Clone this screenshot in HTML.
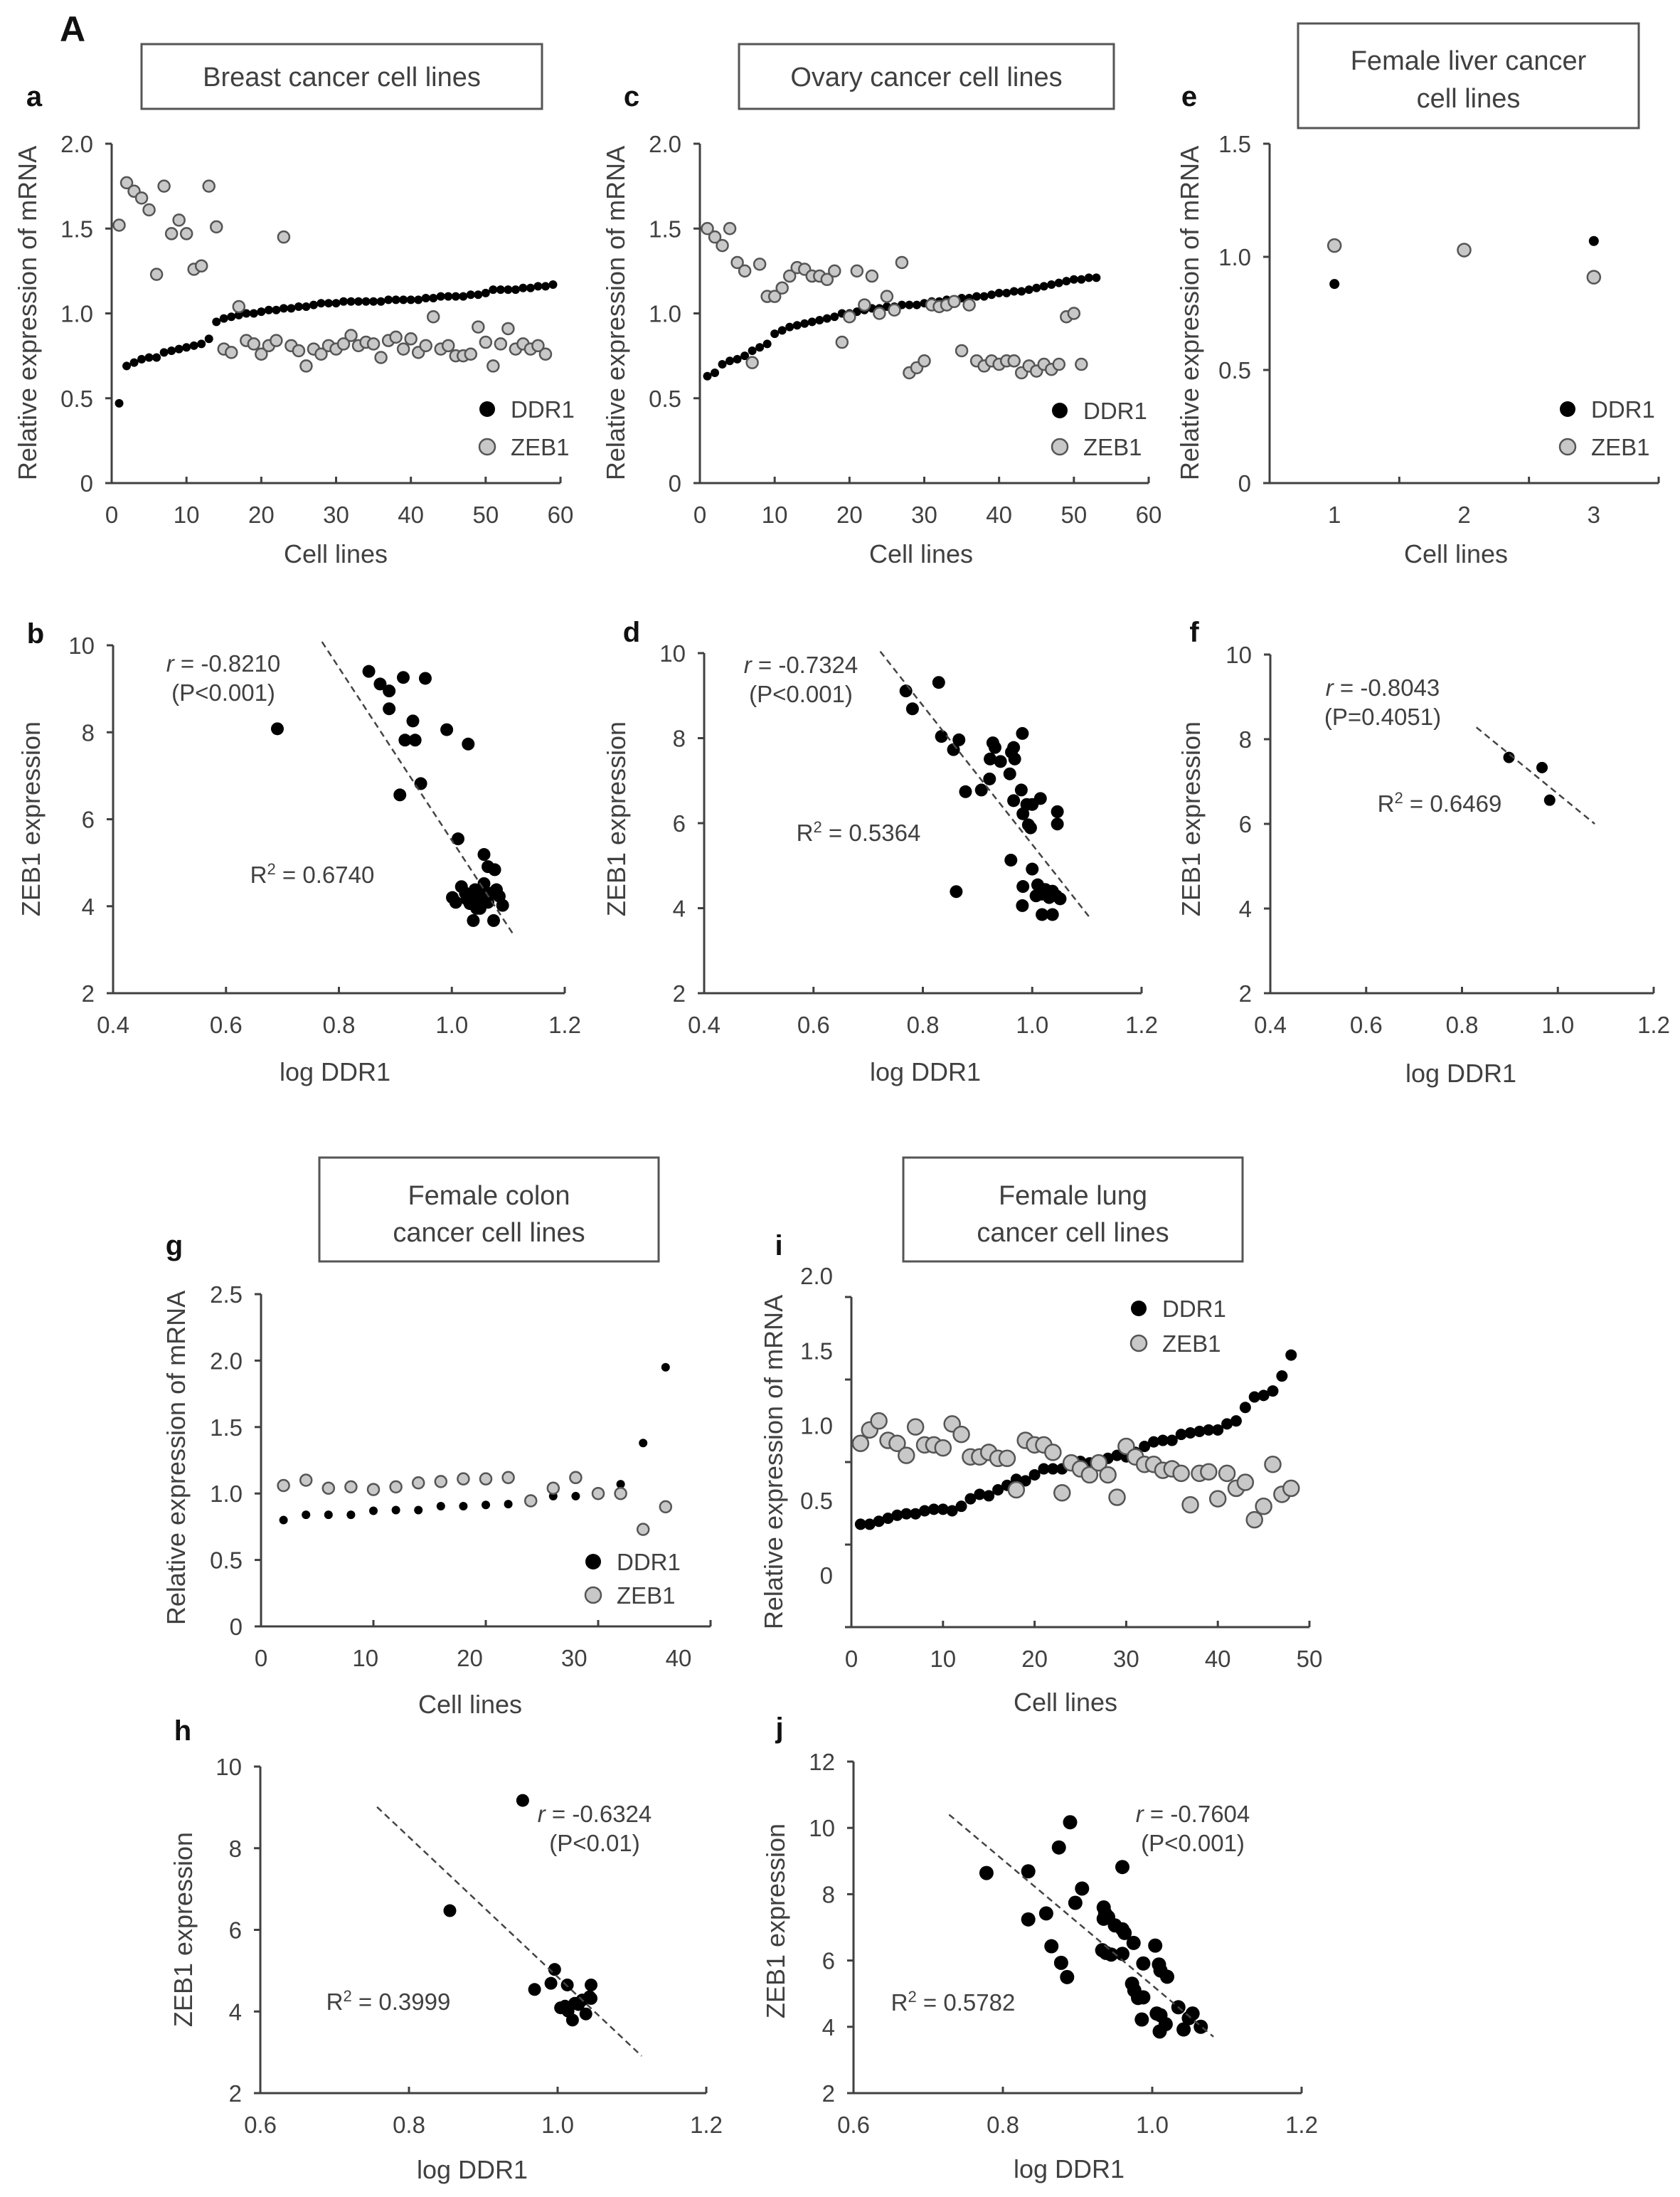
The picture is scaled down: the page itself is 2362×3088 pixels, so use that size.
<!DOCTYPE html>
<html><head><meta charset="utf-8"><style>
html,body{margin:0;padding:0;background:#fff;}
svg{display:block;font-family:"Liberation Sans",Arial,sans-serif;}
</style></head><body>
<svg id="fig" xmlns="http://www.w3.org/2000/svg" width="2362" height="3088" viewBox="0 0 2362 3088"></svg>
<script>
// ---------- DATA ----------
const aDDR1=[0.47,0.69,0.71,0.73,0.74,0.74,0.77,0.78,0.79,0.80,0.81,0.82,0.85,0.95,0.97,0.98,0.99,1.00,1.00,1.01,1.02,1.02,1.03,1.03,1.04,1.04,1.05,1.06,1.06,1.06,1.07,1.07,1.07,1.07,1.07,1.07,1.08,1.08,1.08,1.08,1.08,1.09,1.09,1.10,1.10,1.10,1.10,1.11,1.11,1.12,1.14,1.14,1.14,1.14,1.15,1.15,1.16,1.16,1.17];
const aZEB1=[1.52,1.77,1.72,1.68,1.61,1.23,1.75,1.47,1.55,1.47,1.26,1.28,1.75,1.51,0.79,0.77,1.04,0.84,0.82,0.76,0.81,0.84,1.45,0.81,0.78,0.69,0.79,0.76,0.81,0.79,0.82,0.87,0.81,0.83,0.82,0.74,0.84,0.86,0.79,0.85,0.77,0.81,0.98,0.79,0.81,0.75,0.75,0.76,0.92,0.83,0.69,0.82,0.91,0.79,0.82,0.79,0.81,0.76];
const cDDR1=[0.63,0.65,0.70,0.72,0.73,0.75,0.78,0.80,0.82,0.88,0.90,0.92,0.93,0.94,0.95,0.96,0.97,0.98,1.00,1.00,1.01,1.02,1.03,1.03,1.04,1.04,1.05,1.05,1.05,1.06,1.07,1.07,1.08,1.08,1.09,1.09,1.10,1.10,1.11,1.12,1.12,1.13,1.13,1.14,1.15,1.16,1.17,1.18,1.19,1.20,1.20,1.21,1.21];
const cZEB1=[1.50,1.45,1.40,1.50,1.30,1.25,0.71,1.29,1.10,1.10,1.15,1.22,1.27,1.26,1.22,1.22,1.20,1.25,0.83,0.98,1.25,1.05,1.22,1.00,1.10,1.02,1.30,0.65,0.68,0.72,1.05,1.04,1.05,1.07,0.78,1.05,0.72,0.69,0.72,0.70,0.72,0.72,0.65,0.69,0.66,0.70,0.67,0.70,0.98,1.00,0.70];
const eCells=[1,2,3];
const eDDR1=[0.88,1.02,1.07];
const eZEB1=[1.05,1.03,0.91];
const gCells=[2,4,6,8,10,12,14,16,18,20,22,24,26,28,30,32,34,36];
const gDDR1=[0.80,0.84,0.84,0.84,0.87,0.875,0.875,0.905,0.905,0.914,0.92,0.95,0.98,0.98,1.00,1.07,1.38,1.95];
const gZEB1=[1.06,1.10,1.04,1.05,1.03,1.05,1.08,1.09,1.11,1.11,1.12,0.945,1.04,1.12,1.00,1.00,0.73,0.90];
const iDDR1=[0.34,0.34,0.36,0.38,0.40,0.41,0.41,0.43,0.44,0.44,0.43,0.46,0.51,0.54,0.53,0.57,0.60,0.64,0.63,0.67,0.71,0.71,0.71,0.75,0.76,0.75,0.77,0.78,0.80,0.79,0.82,0.86,0.89,0.90,0.90,0.94,0.95,0.96,0.97,0.97,1.01,1.03,1.12,1.19,1.20,1.23,1.33,1.47];
const iZEB1=[0.88,0.97,1.03,0.90,0.88,0.80,0.99,0.87,0.87,0.85,1.01,0.94,0.79,0.79,0.82,0.78,0.78,0.57,0.90,0.87,0.87,0.82,0.55,0.75,0.71,0.67,0.75,0.67,0.52,0.86,0.79,0.74,0.74,0.70,0.71,0.68,0.47,0.68,0.69,0.51,0.68,0.58,0.62,0.37,0.46,0.74,0.54,0.58];
const bX=[0.691,0.853,0.873,0.889,0.889,0.914,0.953,0.931,0.917,0.935,0.991,1.029,0.945,0.908,1.011,1.057,1.064,1.076,1.001,1.007,1.017,1.024,1.032,1.041,1.047,1.050,1.057,1.064,1.070,1.079,1.084,1.090,1.038,1.074,1.044,1.027,1.054];
const bY=[8.08,9.40,9.11,8.95,8.54,9.26,9.24,8.26,7.82,7.82,8.06,7.73,6.82,6.56,5.55,5.19,4.91,4.84,4.20,4.09,4.45,4.30,4.06,4.38,4.20,3.95,4.52,4.09,4.30,4.38,4.23,4.02,3.67,3.67,3.95,4.16,4.34];
const bTrendX=[0.770,1.109];
const bTrendY=[10.08,3.35];
const dX=[0.769,0.829,0.781,0.834,0.866,0.856,0.878,0.907,0.922,0.923,0.928,0.932,0.942,0.959,0.962,0.968,0.966,0.982,0.980,0.966,0.983,0.990,1.000,1.015,0.993,0.997,1.046,1.046,0.961,1.000,0.861,0.983,0.982,1.010,1.017,1.024,1.031,1.037,1.044,1.051,1.018,1.037,1.007];
const dY=[9.11,9.31,8.69,8.04,7.96,7.73,6.74,6.78,7.04,7.51,7.89,7.78,7.45,7.16,7.67,7.51,7.78,8.11,6.78,6.53,6.22,6.44,6.44,6.58,5.96,5.89,6.27,5.98,5.13,4.92,4.39,4.51,4.06,4.55,4.33,4.44,4.25,4.40,4.29,4.22,3.85,3.85,4.29];
const dTrendX=[0.722,1.107];
const dTrendY=[10.04,3.75];
const fX=[0.898,0.967,0.983];
const fY=[7.57,7.33,6.56];
const fTrendX=[0.830,1.077];
const fTrendY=[8.28,6.00];
const hX=[0.953,0.855,0.969,0.996,0.991,1.013,1.045,1.004,1.010,1.014,1.020,1.028,1.033,1.038,1.043,1.045,1.023];
const hY=[9.17,6.47,4.54,5.03,4.69,4.65,4.65,4.09,4.13,4.01,3.79,4.17,4.28,3.94,4.36,4.32,4.20];
const hTrendX=[0.757,1.113];
const hTrendY=[9.01,2.91];
const jX=[0.778,0.834,0.834,0.858,0.865,0.878,0.886,0.875,0.890,0.897,0.906,0.960,0.935,0.937,0.935,0.941,0.950,0.960,0.963,0.933,0.938,0.945,0.960,0.975,0.988,1.004,1.009,1.011,1.020,0.973,0.976,0.981,0.988,0.986,1.006,1.011,1.018,1.010,1.035,1.054,1.049,1.042,1.065];
const jY=[8.64,8.69,7.24,7.42,6.43,5.93,5.50,9.41,10.17,7.74,8.17,8.82,7.60,7.42,7.26,7.31,7.06,6.94,6.83,6.31,6.23,6.18,6.20,6.53,5.91,6.45,5.88,5.70,5.51,5.30,5.10,4.87,4.89,4.22,4.40,4.35,4.08,3.86,4.59,4.40,4.26,3.92,4.00];
const jTrendX=[0.728,1.082];
const jTrendY=[10.40,3.70];
const cellTicks=[0,10,20,30,40,50,60];
const logTicksWide=[0.4,0.6,0.8,1.0,1.2];
const logTicksNarrow=[0.6,0.8,1.0,1.2];

// ---------- HELPERS ----------
const NS='http://www.w3.org/2000/svg';
const svg=document.getElementById('fig');
const INK='#404040';
function lin(d0,d1,r0,r1){return v=>r0+(v-d0)*(r1-r0)/(d1-d0);}
function mk(tag,attrs){const e=document.createElementNS(NS,tag);for(const k in attrs)e.setAttribute(k,attrs[k]);svg.appendChild(e);return e;}
function tx(x,y,s,size,anchor,extra){const e=mk('text',Object.assign({x:x,y:y,'font-size':size,'text-anchor':anchor||'middle',fill:INK},extra||{}));e.textContent=s;return e;}
function fmt(v,dec){if(v===0)return '0';return dec?v.toFixed(1):String(v);}

function axes(p){
  const ax=mk('path',{d:`M${p.xl},${p.yTop} L${p.xl},${p.yBot} L${p.xr},${p.yBot}`,fill:'none',stroke:INK,'stroke-width':3});
  
  
  p.yTicks.forEach((v,i)=>{
    const ty=p.yTickPix?p.yTickPix[i]:p.ys(v);
    const t=mk('line',{x1:p.xl-9,y1:ty,x2:p.xl,y2:ty,stroke:INK,'stroke-width':3});
    
    
    const l=tx(p.xl-26,p.ys(v)+12,fmt(v,p.yDec),33,'end');
    
    
  });
  p.xTickPos.forEach(v=>{
    const t=mk('line',{x1:p.xs(v),y1:p.yBot-9,x2:p.xs(v),y2:p.yBot,stroke:INK,'stroke-width':3});
    
    
  });
  const lxs=p.xLabelScale||p.xs;
  p.xLabels.forEach(v=>{
    const l=tx(lxs(v),p.yBot+56,fmt(v,p.xDec),33,'middle');
    
    
  });
  const yt=tx(0,0,p.yTitle,36,'middle',{transform:`translate(${p.ytx+12},${p.yty}) rotate(-90)`});
  
  
  const xt=tx(p.xtx,p.xty+12,p.xTitle,36,'middle');
  
  
  const lt=tx(p.lx,p.ly+14,p.letter,40,'middle',{'font-weight':'bold',fill:'#111'});
  
  
}
function dots(p,xsArr,ysArr,r,fill,stroke,name){
  xsArr.forEach((x,i)=>{
    const c=mk('circle',{cx:p.xs(x),cy:p.ys(ysArr[i]),r:r,fill:fill,stroke:stroke,'stroke-width':stroke==='none'?0:2.5});
    
    
  });
}
function idx(arr,start){return arr.map((_,i)=>i+(start||1));}
function legend(x,y1,y2,id){
  const d=mk('circle',{cx:x,cy:y1,r:11,fill:'#000'});
  
  
  const t1=tx(x+33,y1+12,'DDR1',33,'start');
  
  
  const z=mk('circle',{cx:x,cy:y2,r:11,fill:'#c8c8c8',stroke:'#555','stroke-width':2.5});
  
  
  const t2=tx(x+33,y2+12,'ZEB1',33,'start');
  
  
}
function trend(p,X,Y){
  const l=mk('line',{x1:p.xs(X[0]),y1:p.ys(Y[0]),x2:p.xs(X[1]),y2:p.ys(Y[1]),stroke:'#444','stroke-width':2.5,'stroke-dasharray':'9,6'});
  
  
}
function annot(p,rx,ry,rs,ps,R2x,R2y,R2s){
  const t=mk('text',{x:rx,y:ry+12,'font-size':33,'text-anchor':'middle',fill:INK});
  
  
  const it=document.createElementNS(NS,'tspan');it.setAttribute('font-style','italic');it.textContent='r';t.appendChild(it);
  const rest=document.createElementNS(NS,'tspan');rest.textContent=' = '+rs;t.appendChild(rest);
  const pt=tx(rx,ry+53,ps,33,'middle');
  
  
  const r2=mk('text',{x:R2x,y:R2y+12,'font-size':33,'text-anchor':'middle',fill:INK});
  
  
  const a=document.createElementNS(NS,'tspan');a.textContent='R';r2.appendChild(a);
  const s=document.createElementNS(NS,'tspan');s.setAttribute('dy','-12');s.setAttribute('font-size','22');s.textContent='2';r2.appendChild(s);
  const b=document.createElementNS(NS,'tspan');b.setAttribute('dy','12');b.textContent=' = '+R2s;r2.appendChild(b);
}
function box(x,y,w,h,lines,ly,id){
  const r=mk('rect',{x:x,y:y,width:w,height:h,fill:'#fff',stroke:'#555','stroke-width':3});
  
  
  lines.forEach((s,i)=>{
    const t=tx(x+w/2,ly[i]+13,s,38,'middle');
    
    
  });
}

// ---------- FIGURE ----------
const A=tx(102,58,'A',50,'middle',{'font-weight':'bold',fill:'#111'});



box(199,62,563,91,['Breast cancer cell lines'],[108],'breast');
box(1039,62,527,91,['Ovary cancer cell lines'],[108],'ovary');
box(1825,33,479,147,['Female liver cancer','cell lines'],[85,138],'liver');
box(449,1627,477,146,['Female colon','cancer cell lines'],[1680,1732],'colon');
box(1270,1627,477,146,['Female lung','cancer cell lines'],[1680,1732],'lung');

const RE='Relative expression of mRNA', ZE='ZEB1 expression', CL='Cell lines', LD='log DDR1';

// a
const pa={id:'panel-a',xl:157,xr:788,yTop:202,yBot:679,xs:lin(0,60,157,788),ys:lin(0,2,679,202),yTicks:[0,0.5,1,1.5,2],yDec:true,xTickPos:cellTicks,xLabels:cellTicks,yTitle:RE,ytx:39,yty:440,xTitle:CL,xtx:472,xty:779,letter:'a',lx:48,ly:135};
axes(pa);dots(pa,idx(aDDR1),aDDR1,6,'#000','none','panel-a-ddr1-point');dots(pa,idx(aZEB1),aZEB1,8,'#c8c8c8','#555','panel-a-zeb1-point');legend(685,575,628,'panel-a');
// c
const pc={id:'panel-c',xl:984,xr:1615,yTop:202,yBot:679,xs:lin(0,60,984,1615),ys:lin(0,2,679,202),yTicks:[0,0.5,1,1.5,2],yDec:true,xTickPos:cellTicks,xLabels:cellTicks,yTitle:RE,ytx:866,yty:440,xTitle:CL,xtx:1295,xty:779,letter:'c',lx:888,ly:135};
axes(pc);dots(pc,idx(cDDR1),cDDR1,6,'#000','none','panel-c-ddr1-point');dots(pc,idx(cZEB1),cZEB1,8,'#c8c8c8','#555','panel-c-zeb1-point');legend(1490,577,628,'panel-c');
// e
const pe={id:'panel-e',xl:1785,xr:2332,yTop:202,yBot:679,xs:lin(0.5,3.5,1785,2332),ys:lin(0,1.5,679,202),yTicks:[0,0.5,1,1.5],yDec:true,xTickPos:[0.5,1.5,2.5,3.5],xLabels:[1,2,3],yTitle:RE,ytx:1673,yty:440,xTitle:CL,xtx:2047,xty:779,letter:'e',lx:1672,ly:135};
axes(pe);dots(pe,eCells,eDDR1,7,'#000','none','panel-e-ddr1-point');dots(pe,eCells,eZEB1,9,'#c8c8c8','#555','panel-e-zeb1-point');legend(2204,575,628,'panel-e');
// b
const pb={id:'panel-b',xl:159,xr:794,yTop:907,yBot:1396,xs:lin(0.4,1.2,159,794),ys:lin(2,10,1396,907),yTicks:[2,4,6,8,10],yDec:false,xTickPos:logTicksWide,xLabels:logTicksWide,xDec:true,yTitle:ZE,ytx:44,yty:1151,xTitle:LD,xtx:471,xty:1507,letter:'b',lx:50,ly:890};
axes(pb);dots(pb,bX,bY,9,'#000','none','panel-b-point');trend(pb,bTrendX,bTrendY);annot(pb,314,932,'-0.8210','(P<0.001)',439,1229,'0.6740');
// d
const pd={id:'panel-d',xl:990,xr:1605,yTop:918,yBot:1396,xs:lin(0.4,1.2,990,1605),ys:lin(2,10,1396,918),yTicks:[2,4,6,8,10],yDec:false,xTickPos:logTicksWide,xLabels:logTicksWide,xDec:true,yTitle:ZE,ytx:867,yty:1151,xTitle:LD,xtx:1301,xty:1507,letter:'d',lx:888,ly:888};
axes(pd);dots(pd,dX,dY,9,'#000','none','panel-d-point');trend(pd,dTrendX,dTrendY);annot(pd,1126,934,'-0.7324','(P<0.001)',1207,1170,'0.5364');
// f
const pf={id:'panel-f',xl:1786,xr:2325,yTop:920,yBot:1396,xs:lin(0.4,1.2,1786,2325),ys:lin(2,10,1396,920),yTicks:[2,4,6,8,10],yDec:false,xTickPos:logTicksWide,xLabels:logTicksWide,xDec:true,yTitle:ZE,ytx:1675,yty:1151,xTitle:LD,xtx:2054,xty:1509,letter:'f',lx:1679,ly:888};
axes(pf);dots(pf,fX,fY,8,'#000','none','panel-f-point');trend(pf,fTrendX,fTrendY);annot(pf,1944,966,'-0.8043','(P=0.4051)',2024,1129,'0.6469');
// g
const pg={id:'panel-g',xl:367,xr:999,yTop:1819,yBot:2286,xs:lin(0,40,367,999),xLabelScale:lin(0,40,367,954),ys:lin(0,2.5,2286,1819),yTicks:[0,0.5,1,1.5,2,2.5],yDec:true,xTickPos:[0,10,20,30,40],xLabels:[0,10,20,30,40],yTitle:RE,ytx:248,yty:2049,xTitle:CL,xtx:661,xty:2396,letter:'g',lx:245,ly:1750};
axes(pg);dots(pg,gCells,gDDR1,6,'#000','none','panel-g-ddr1-point');dots(pg,gCells,gZEB1,8,'#c8c8c8','#555','panel-g-zeb1-point');legend(834,2195,2242,'panel-g');
// i
const pi={id:'panel-i',xl:1197,xr:1841,yTop:1823,yBot:2287,xs:lin(0,50,1197,1841),ys:lin(0,2,2214,1793),yTicks:[0,0.5,1,1.5,2],yTickPix:[2287,2171,2055,1939,1823],yDec:true,xTickPos:[0,10,20,30,40,50],xLabels:[0,10,20,30,40,50],yTitle:RE,ytx:1088,yty:2055,xTitle:CL,xtx:1498,xty:2393,letter:'i',lx:1095,ly:1750};
axes(pi);dots(pi,idx(iDDR1),iDDR1,8,'#000','none','panel-i-ddr1-point');dots(pi,idx(iZEB1),iZEB1,11,'#c8c8c8','#555','panel-i-zeb1-point');legend(1601,1839,1888,'panel-i');
// h
const ph={id:'panel-h',xl:366,xr:993,yTop:2483,yBot:2942,xs:lin(0.6,1.2,366,993),ys:lin(2,10,2942,2483),yTicks:[2,4,6,8,10],yDec:false,xTickPos:logTicksNarrow,xLabels:logTicksNarrow,xDec:true,yTitle:ZE,ytx:258,yty:2712,xTitle:LD,xtx:664,xty:3050,letter:'h',lx:257,ly:2432};
axes(ph);dots(ph,hX,hY,9,'#000','none','panel-h-point');trend(ph,hTrendX,hTrendY);annot(ph,836,2549,'-0.6324','(P<0.01)',546,2813,'0.3999');
// j
const pj={id:'panel-j',xl:1200,xr:1830,yTop:2476,yBot:2942,xs:lin(0.6,1.2,1200,1830),ys:lin(2,12,2942,2476),yTicks:[2,4,6,8,10,12],yDec:false,xTickPos:logTicksNarrow,xLabels:logTicksNarrow,xDec:true,yTitle:ZE,ytx:1091,yty:2700,xTitle:LD,xtx:1503,xty:3049,letter:'j',lx:1096,ly:2428};
axes(pj);dots(pj,jX,jY,10,'#000','none','panel-j-point');trend(pj,jTrendX,jTrendY);annot(pj,1677,2549,'-0.7604','(P<0.001)',1340,2814,'0.5782');
</script>
</body></html>
